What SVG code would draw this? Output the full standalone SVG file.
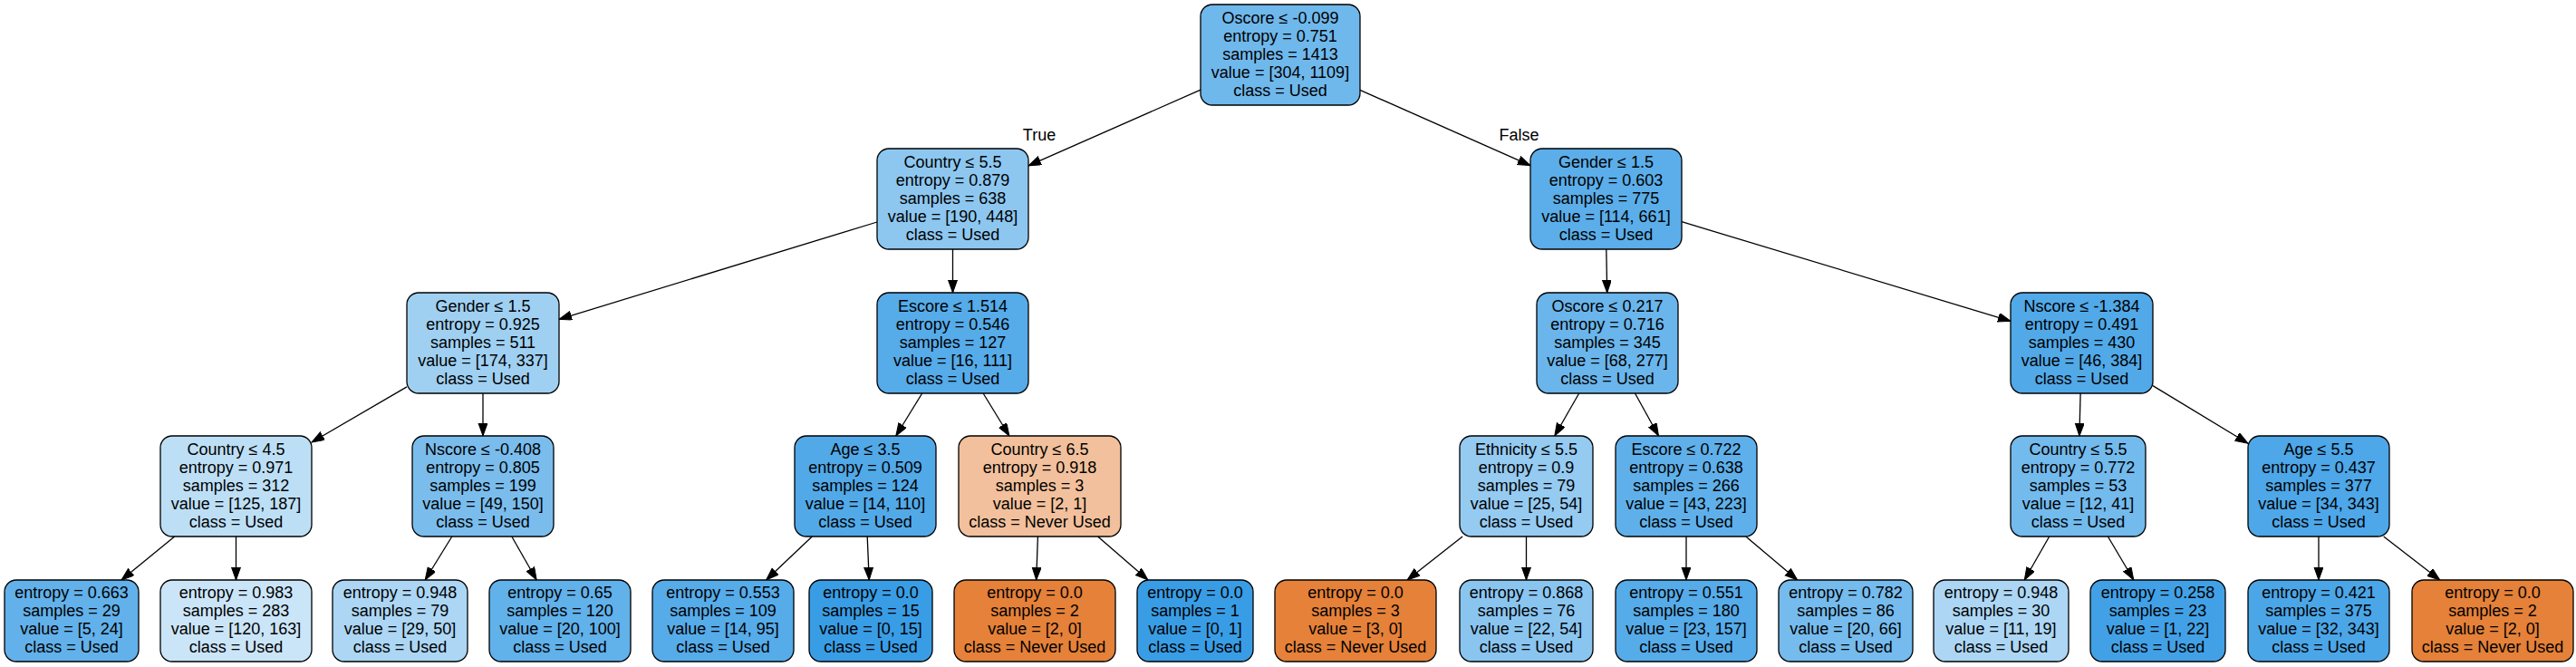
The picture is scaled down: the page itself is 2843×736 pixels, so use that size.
<svg xmlns="http://www.w3.org/2000/svg" width="2843" height="736" viewBox="0 0 2843 736">
<style>
.bg{fill:#ffffff}
.box{stroke:#000000;stroke-width:1.3}
.t{font-family:"Liberation Sans",Helvetica,Arial,sans-serif;font-size:18px;fill:#000000;text-anchor:middle}
.e{stroke:#000000;stroke-width:1.3;fill:none;marker-end:url(#ah)}
</style>
<defs>
<marker id="ah" markerUnits="userSpaceOnUse" markerWidth="15" markerHeight="11" refX="14" refY="5" orient="auto">
<path d="M0,0 L14,5 L0,10 Z" fill="#000000" stroke="#000000" stroke-width="1"/>
</marker>
</defs>
<rect class="bg" x="0" y="0" width="2843" height="736"/>
<g id="connectors">
<line class="e" x1="1325" y1="99.2" x2="1135" y2="182.8"/>
<line class="e" x1="1501" y1="99.4" x2="1689" y2="182.6"/>
<line class="e" x1="968" y1="245" x2="617" y2="352.3"/>
<line class="e" x1="1051.5" y1="275" x2="1051.5" y2="323"/>
<line class="e" x1="449" y1="426.9" x2="344" y2="488"/>
<line class="e" x1="533" y1="434" x2="533" y2="481"/>
<line class="e" x1="192.7" y1="592" x2="134" y2="640"/>
<line class="e" x1="260.5" y1="592" x2="260.5" y2="640"/>
<line class="e" x1="498.8" y1="592" x2="469.2" y2="640"/>
<line class="e" x1="564.8" y1="592" x2="592.2" y2="640"/>
<line class="e" x1="1017.7" y1="434" x2="988.8" y2="481"/>
<line class="e" x1="1085.1" y1="434" x2="1113.9" y2="481"/>
<line class="e" x1="896.3" y1="592" x2="845.6" y2="640"/>
<line class="e" x1="957.2" y1="592" x2="959.2" y2="640"/>
<line class="e" x1="1145.4" y1="592" x2="1143.7" y2="640"/>
<line class="e" x1="1211.6" y1="592" x2="1267" y2="640"/>
<line class="e" x1="1772.8" y1="275" x2="1773.7" y2="323"/>
<line class="e" x1="1856" y1="244.7" x2="2219" y2="354.3"/>
<line class="e" x1="1742.7" y1="434" x2="1715.8" y2="481"/>
<line class="e" x1="1804.5" y1="434" x2="1830.5" y2="481"/>
<line class="e" x1="1614.1" y1="592" x2="1553.1" y2="640"/>
<line class="e" x1="1684.5" y1="592" x2="1684.5" y2="640"/>
<line class="e" x1="1861" y1="592" x2="1861" y2="640"/>
<line class="e" x1="1926.8" y1="592" x2="1983.7" y2="640"/>
<line class="e" x1="2296.1" y1="434" x2="2294.9" y2="481"/>
<line class="e" x1="2376" y1="425.6" x2="2481" y2="489.2"/>
<line class="e" x1="2261.7" y1="592" x2="2234.3" y2="640"/>
<line class="e" x1="2326.4" y1="592" x2="2354.8" y2="640"/>
<line class="e" x1="2559" y1="592" x2="2559" y2="640"/>
<line class="e" x1="2630.7" y1="592" x2="2692.8" y2="640"/>
<text class="t" x="1147" y="155">True</text>
<text class="t" x="1676.5" y="155">False</text>
</g>
<g id="n0"><rect class="box" x="1325" y="5" width="176" height="111" rx="13" fill="#6fb8ec"/><text class="t" x="1413" y="26"><tspan x="1413">Oscore ≤ -0.099</tspan><tspan x="1413" dy="20">entropy = 0.751</tspan><tspan x="1413" dy="20">samples = 1413</tspan><tspan x="1413" dy="20">value = [304, 1109]</tspan><tspan x="1413" dy="20">class = Used</tspan></text></g>
<g id="n1"><rect class="box" x="968" y="164" width="167" height="111" rx="13" fill="#8dc7f0"/><text class="t" x="1051.5" y="185"><tspan x="1051.5">Country ≤ 5.5</tspan><tspan x="1051.5" dy="20">entropy = 0.879</tspan><tspan x="1051.5" dy="20">samples = 638</tspan><tspan x="1051.5" dy="20">value = [190, 448]</tspan><tspan x="1051.5" dy="20">class = Used</tspan></text></g>
<g id="n2"><rect class="box" x="449" y="323" width="168" height="111" rx="13" fill="#9fd0f2"/><text class="t" x="533" y="344"><tspan x="533">Gender ≤ 1.5</tspan><tspan x="533" dy="20">entropy = 0.925</tspan><tspan x="533" dy="20">samples = 511</tspan><tspan x="533" dy="20">value = [174, 337]</tspan><tspan x="533" dy="20">class = Used</tspan></text></g>
<g id="n3"><rect class="box" x="177" y="481" width="167" height="111" rx="13" fill="#bddff6"/><text class="t" x="260.5" y="502"><tspan x="260.5">Country ≤ 4.5</tspan><tspan x="260.5" dy="20">entropy = 0.971</tspan><tspan x="260.5" dy="20">samples = 312</tspan><tspan x="260.5" dy="20">value = [125, 187]</tspan><tspan x="260.5" dy="20">class = Used</tspan></text></g>
<g id="n4"><rect class="box" x="5" y="640" width="148" height="90" rx="13" fill="#62b1ea"/><text class="t" x="79" y="660"><tspan x="79">entropy = 0.663</tspan><tspan x="79" dy="20">samples = 29</tspan><tspan x="79" dy="20">value = [5, 24]</tspan><tspan x="79" dy="20">class = Used</tspan></text></g>
<g id="n5"><rect class="box" x="177" y="640" width="167" height="90" rx="13" fill="#cbe5f8"/><text class="t" x="260.5" y="660"><tspan x="260.5">entropy = 0.983</tspan><tspan x="260.5" dy="20">samples = 283</tspan><tspan x="260.5" dy="20">value = [120, 163]</tspan><tspan x="260.5" dy="20">class = Used</tspan></text></g>
<g id="n6"><rect class="box" x="455" y="481" width="156" height="111" rx="13" fill="#7abded"/><text class="t" x="533" y="502"><tspan x="533">Nscore ≤ -0.408</tspan><tspan x="533" dy="20">entropy = 0.805</tspan><tspan x="533" dy="20">samples = 199</tspan><tspan x="533" dy="20">value = [49, 150]</tspan><tspan x="533" dy="20">class = Used</tspan></text></g>
<g id="n7"><rect class="box" x="367" y="640" width="149" height="90" rx="13" fill="#acd6f4"/><text class="t" x="441.5" y="660"><tspan x="441.5">entropy = 0.948</tspan><tspan x="441.5" dy="20">samples = 79</tspan><tspan x="441.5" dy="20">value = [29, 50]</tspan><tspan x="441.5" dy="20">class = Used</tspan></text></g>
<g id="n8"><rect class="box" x="540" y="640" width="156" height="90" rx="13" fill="#61b1ea"/><text class="t" x="618" y="660"><tspan x="618">entropy = 0.65</tspan><tspan x="618" dy="20">samples = 120</tspan><tspan x="618" dy="20">value = [20, 100]</tspan><tspan x="618" dy="20">class = Used</tspan></text></g>
<g id="n9"><rect class="box" x="968" y="323" width="167" height="111" rx="13" fill="#56abe9"/><text class="t" x="1051.5" y="344"><tspan x="1051.5">Escore ≤ 1.514</tspan><tspan x="1051.5" dy="20">entropy = 0.546</tspan><tspan x="1051.5" dy="20">samples = 127</tspan><tspan x="1051.5" dy="20">value = [16, 111]</tspan><tspan x="1051.5" dy="20">class = Used</tspan></text></g>
<g id="n10"><rect class="box" x="877" y="481" width="156" height="111" rx="13" fill="#52a9e8"/><text class="t" x="955" y="502"><tspan x="955">Age ≤ 3.5</tspan><tspan x="955" dy="20">entropy = 0.509</tspan><tspan x="955" dy="20">samples = 124</tspan><tspan x="955" dy="20">value = [14, 110]</tspan><tspan x="955" dy="20">class = Used</tspan></text></g>
<g id="n11"><rect class="box" x="720" y="640" width="156" height="90" rx="13" fill="#56abe9"/><text class="t" x="798" y="660"><tspan x="798">entropy = 0.553</tspan><tspan x="798" dy="20">samples = 109</tspan><tspan x="798" dy="20">value = [14, 95]</tspan><tspan x="798" dy="20">class = Used</tspan></text></g>
<g id="n12"><rect class="box" x="893" y="640" width="136" height="90" rx="13" fill="#399de5"/><text class="t" x="961" y="660"><tspan x="961">entropy = 0.0</tspan><tspan x="961" dy="20">samples = 15</tspan><tspan x="961" dy="20">value = [0, 15]</tspan><tspan x="961" dy="20">class = Used</tspan></text></g>
<g id="n13"><rect class="box" x="1058" y="481" width="179" height="111" rx="13" fill="#f2c09c"/><text class="t" x="1147.5" y="502"><tspan x="1147.5">Country ≤ 6.5</tspan><tspan x="1147.5" dy="20">entropy = 0.918</tspan><tspan x="1147.5" dy="20">samples = 3</tspan><tspan x="1147.5" dy="20">value = [2, 1]</tspan><tspan x="1147.5" dy="20">class = Never Used</tspan></text></g>
<g id="n14"><rect class="box" x="1053" y="640" width="178" height="90" rx="13" fill="#e58139"/><text class="t" x="1142" y="660"><tspan x="1142">entropy = 0.0</tspan><tspan x="1142" dy="20">samples = 2</tspan><tspan x="1142" dy="20">value = [2, 0]</tspan><tspan x="1142" dy="20">class = Never Used</tspan></text></g>
<g id="n15"><rect class="box" x="1255" y="640" width="128" height="90" rx="13" fill="#399de5"/><text class="t" x="1319" y="660"><tspan x="1319">entropy = 0.0</tspan><tspan x="1319" dy="20">samples = 1</tspan><tspan x="1319" dy="20">value = [0, 1]</tspan><tspan x="1319" dy="20">class = Used</tspan></text></g>
<g id="n16"><rect class="box" x="1689" y="164" width="167" height="111" rx="13" fill="#5baee9"/><text class="t" x="1772.5" y="185"><tspan x="1772.5">Gender ≤ 1.5</tspan><tspan x="1772.5" dy="20">entropy = 0.603</tspan><tspan x="1772.5" dy="20">samples = 775</tspan><tspan x="1772.5" dy="20">value = [114, 661]</tspan><tspan x="1772.5" dy="20">class = Used</tspan></text></g>
<g id="n17"><rect class="box" x="1696" y="323" width="156" height="111" rx="13" fill="#6ab5eb"/><text class="t" x="1774" y="344"><tspan x="1774">Oscore ≤ 0.217</tspan><tspan x="1774" dy="20">entropy = 0.716</tspan><tspan x="1774" dy="20">samples = 345</tspan><tspan x="1774" dy="20">value = [68, 277]</tspan><tspan x="1774" dy="20">class = Used</tspan></text></g>
<g id="n18"><rect class="box" x="1611" y="481" width="147" height="111" rx="13" fill="#95caf1"/><text class="t" x="1684.5" y="502"><tspan x="1684.5">Ethnicity ≤ 5.5</tspan><tspan x="1684.5" dy="20">entropy = 0.9</tspan><tspan x="1684.5" dy="20">samples = 79</tspan><tspan x="1684.5" dy="20">value = [25, 54]</tspan><tspan x="1684.5" dy="20">class = Used</tspan></text></g>
<g id="n19"><rect class="box" x="1407" y="640" width="178" height="90" rx="13" fill="#e58139"/><text class="t" x="1496" y="660"><tspan x="1496">entropy = 0.0</tspan><tspan x="1496" dy="20">samples = 3</tspan><tspan x="1496" dy="20">value = [3, 0]</tspan><tspan x="1496" dy="20">class = Never Used</tspan></text></g>
<g id="n20"><rect class="box" x="1611" y="640" width="147" height="90" rx="13" fill="#8ac5f0"/><text class="t" x="1684.5" y="660"><tspan x="1684.5">entropy = 0.868</tspan><tspan x="1684.5" dy="20">samples = 76</tspan><tspan x="1684.5" dy="20">value = [22, 54]</tspan><tspan x="1684.5" dy="20">class = Used</tspan></text></g>
<g id="n21"><rect class="box" x="1783" y="481" width="156" height="111" rx="13" fill="#5fb0ea"/><text class="t" x="1861" y="502"><tspan x="1861">Escore ≤ 0.722</tspan><tspan x="1861" dy="20">entropy = 0.638</tspan><tspan x="1861" dy="20">samples = 266</tspan><tspan x="1861" dy="20">value = [43, 223]</tspan><tspan x="1861" dy="20">class = Used</tspan></text></g>
<g id="n22"><rect class="box" x="1783" y="640" width="156" height="90" rx="13" fill="#56abe9"/><text class="t" x="1861" y="660"><tspan x="1861">entropy = 0.551</tspan><tspan x="1861" dy="20">samples = 180</tspan><tspan x="1861" dy="20">value = [23, 157]</tspan><tspan x="1861" dy="20">class = Used</tspan></text></g>
<g id="n23"><rect class="box" x="1963" y="640" width="148" height="90" rx="13" fill="#75bbed"/><text class="t" x="2037" y="660"><tspan x="2037">entropy = 0.782</tspan><tspan x="2037" dy="20">samples = 86</tspan><tspan x="2037" dy="20">value = [20, 66]</tspan><tspan x="2037" dy="20">class = Used</tspan></text></g>
<g id="n24"><rect class="box" x="2219" y="323" width="157" height="111" rx="13" fill="#51a9e8"/><text class="t" x="2297.5" y="344"><tspan x="2297.5">Nscore ≤ -1.384</tspan><tspan x="2297.5" dy="20">entropy = 0.491</tspan><tspan x="2297.5" dy="20">samples = 430</tspan><tspan x="2297.5" dy="20">value = [46, 384]</tspan><tspan x="2297.5" dy="20">class = Used</tspan></text></g>
<g id="n25"><rect class="box" x="2219" y="481" width="149" height="111" rx="13" fill="#73baed"/><text class="t" x="2293.5" y="502"><tspan x="2293.5">Country ≤ 5.5</tspan><tspan x="2293.5" dy="20">entropy = 0.772</tspan><tspan x="2293.5" dy="20">samples = 53</tspan><tspan x="2293.5" dy="20">value = [12, 41]</tspan><tspan x="2293.5" dy="20">class = Used</tspan></text></g>
<g id="n26"><rect class="box" x="2134" y="640" width="149" height="90" rx="13" fill="#acd6f4"/><text class="t" x="2208.5" y="660"><tspan x="2208.5">entropy = 0.948</tspan><tspan x="2208.5" dy="20">samples = 30</tspan><tspan x="2208.5" dy="20">value = [11, 19]</tspan><tspan x="2208.5" dy="20">class = Used</tspan></text></g>
<g id="n27"><rect class="box" x="2307" y="640" width="149" height="90" rx="13" fill="#42a1e6"/><text class="t" x="2381.5" y="660"><tspan x="2381.5">entropy = 0.258</tspan><tspan x="2381.5" dy="20">samples = 23</tspan><tspan x="2381.5" dy="20">value = [1, 22]</tspan><tspan x="2381.5" dy="20">class = Used</tspan></text></g>
<g id="n28"><rect class="box" x="2481" y="481" width="156" height="111" rx="13" fill="#4da7e8"/><text class="t" x="2559" y="502"><tspan x="2559">Age ≤ 5.5</tspan><tspan x="2559" dy="20">entropy = 0.437</tspan><tspan x="2559" dy="20">samples = 377</tspan><tspan x="2559" dy="20">value = [34, 343]</tspan><tspan x="2559" dy="20">class = Used</tspan></text></g>
<g id="n29"><rect class="box" x="2481" y="640" width="156" height="90" rx="13" fill="#4ba6e7"/><text class="t" x="2559" y="660"><tspan x="2559">entropy = 0.421</tspan><tspan x="2559" dy="20">samples = 375</tspan><tspan x="2559" dy="20">value = [32, 343]</tspan><tspan x="2559" dy="20">class = Used</tspan></text></g>
<g id="n30"><rect class="box" x="2662" y="640" width="178" height="90" rx="13" fill="#e58139"/><text class="t" x="2751" y="660"><tspan x="2751">entropy = 0.0</tspan><tspan x="2751" dy="20">samples = 2</tspan><tspan x="2751" dy="20">value = [2, 0]</tspan><tspan x="2751" dy="20">class = Never Used</tspan></text></g>
</svg>
